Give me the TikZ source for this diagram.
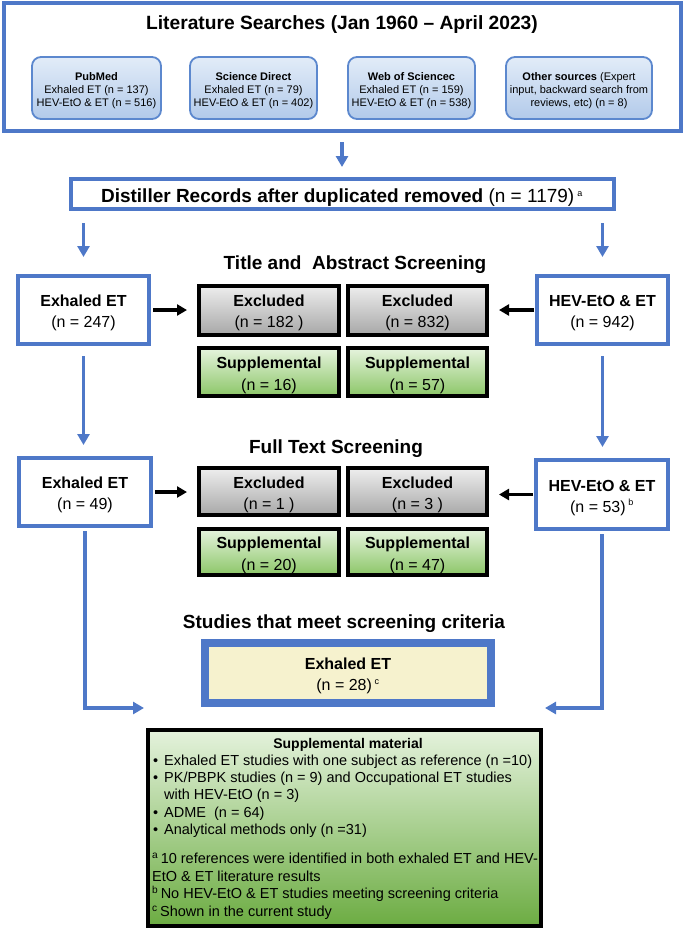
\documentclass[tikz,border=0pt]{standalone}
\usepackage{fontspec}
\setmainfont{Liberation Sans}
\usetikzlibrary{arrows.meta,shadings}
\definecolor{myblue}{RGB}{78,120,200}
\definecolor{subborder}{RGB}{92,136,206}
\definecolor{subtop}{RGB}{226,236,248}
\definecolor{subbot}{RGB}{178,202,234}
\definecolor{graytop}{RGB}{238,238,238}
\definecolor{graybot}{RGB}{168,168,168}
\definecolor{greentop}{RGB}{230,244,222}
\definecolor{greenbot}{RGB}{140,198,104}
\definecolor{smtop}{RGB}{228,242,220}
\definecolor{smbot}{RGB}{108,172,66}
\definecolor{finfill}{RGB}{246,242,206}
\newcommand\fsz[2]{\fontsize{#1}{#2}\selectfont}
\newcommand\lowA{\rule{0pt}{17.5pt}}
\newcommand\lowS{\rule{0pt}{13.5pt}}
\begin{document}
\begin{tikzpicture}[x=1pt,y=-1pt,
 bluebox/.style={draw=myblue, line width=4pt, fill=white, inner sep=0pt, align=center, font=\fsz{16}{21}},
 subbox/.style={draw=subborder, line width=1.8pt, rounded corners=9pt, top color=subtop, bottom color=subbot, align=center, inner sep=0pt, font=\fsz{11}{13}},
 exclbox/.style={draw=black, line width=4pt, top color=graytop, bottom color=graybot, align=center, inner sep=0pt, font=\fsz{16}{21}},
 suppbox/.style={draw=black, line width=4pt, top color=greentop, bottom color=greenbot, align=center, inner sep=0pt, font=\fsz{16}{22}},
 barrow/.style={draw=myblue, line width=3.5pt, -{Triangle[length=11pt,width=12pt]}},
 karrow/.style={draw=black, line width=3.8pt, -{Triangle[length=10pt,width=11pt]}},
 sectitle/.style={font=\fsz{19}{22}\bfseries, inner sep=0pt, anchor=base},
 smline/.style={anchor=base west, inner sep=0pt, font=\fsz{14.5}{17}}
]
\useasboundingbox (0,0) rectangle (685,932);

% Literature searches
\node[bluebox, minimum width=677, minimum height=128] (lit) at (342,67) {};
\node[font=\fsz{19.2}{24}\bfseries, inner sep=0pt, anchor=base] (littitle) at (342,29.3) {Literature Searches (Jan 1960 – April 2023)};
\node[subbox, minimum width=129, minimum height=62] (pub) at (96.5,88) {\lowS\textbf{PubMed}\\Exhaled ET (n = 137)\\HEV-EtO \& ET (n = 516)};
\node[subbox, minimum width=127, minimum height=62] (sd) at (253.5,88) {\lowS\textbf{Science Direct}\\Exhaled ET (n = 79)\\HEV-EtO \& ET (n = 402)};
\node[subbox, minimum width=127, minimum height=62] (wos) at (411.5,88) {\lowS\textbf{Web of Sciencec}\\Exhaled ET (n = 159)\\HEV-EtO \& ET (n = 538)};
\node[subbox, minimum width=146, minimum height=62] (oth) at (579,88) {\lowS\textbf{Other sources} (Expert\\input, backward search from\\reviews, etc) (n = 8)};

% Distiller
\node[bluebox, minimum width=543, minimum height=30, font=\fsz{19}{22}] (dist) at (342,194) {\rule{0pt}{21pt}\textbf{Distiller Records after duplicated removed} (n = 1179)\,\textsuperscript{\fsz{9}{9}a}};
\draw[barrow, shorten <=9pt, shorten >=10pt] (lit.south) -- (dist.north);

% Title and abstract screening
\node[sectitle] (ta) at (355,269.3) {Title and\ \ Abstract Screening};
\node[bluebox, minimum width=131, minimum height=68] (ex1) at (83.5,310) {\lowA\textbf{Exhaled ET}\\(n = 247)};
\node[bluebox, minimum width=131, minimum height=68] (hev1) at (602.5,310) {\lowA\textbf{HEV-EtO \& ET}\\(n = 942)};
\node[exclbox, minimum width=140, minimum height=49] (exL1) at (269,310) {\lowA\textbf{Excluded}\\(n = 182 )};
\node[exclbox, minimum width=139, minimum height=49] (exR1) at (417.5,310) {\lowA\textbf{Excluded}\\(n = 832)};
\node[suppbox, minimum width=140, minimum height=48] (spL1) at (269,372) {\lowA\textbf{Supplemental}\\(n = 16)};
\node[suppbox, minimum width=139, minimum height=48] (spR1) at (417.5,372) {\lowA\textbf{Supplemental}\\(n = 57)};
\draw[barrow, shorten <=12pt, shorten >=17pt] (dist.south -| ex1.north) -- (ex1.north);
\draw[barrow, shorten <=12pt, shorten >=17pt] (dist.south -| hev1.north) -- (hev1.north);
\draw[karrow, shorten <=2pt, shorten >=10pt] (ex1.east) -- (exL1.west);
\draw[karrow, shorten <=1pt, shorten >=10pt] (hev1.west) -- (exR1.east);

% Full text screening
\node[sectitle] (ft) at (336,453) {Full Text Screening};
\node[bluebox, minimum width=132, minimum height=68] (ex2) at (85,492) {\lowA\textbf{Exhaled ET}\\(n = 49)};
\node[bluebox, minimum width=132, minimum height=69] (hev2) at (602,494.5) {\lowA\textbf{HEV-EtO \& ET}\\(n = 53)\,\textsuperscript{\fsz{9}{9}b}};
\node[exclbox, minimum width=140, minimum height=47] (exL2) at (269,491.5) {\lowA\textbf{Excluded}\\(n = 1 )};
\node[exclbox, minimum width=139, minimum height=47] (exR2) at (417.5,491.5) {\lowA\textbf{Excluded}\\(n = 3 )};
\node[suppbox, minimum width=140, minimum height=46] (spL2) at (269,552) {\lowA\textbf{Supplemental}\\(n = 20)};
\node[suppbox, minimum width=139, minimum height=46] (spR2) at (417.5,552) {\lowA\textbf{Supplemental}\\(n = 47)};
\draw[barrow, shorten <=10pt, shorten >=11pt] (ex1.south) -- (ex1.south |- ex2.north);
\draw[barrow, shorten <=10pt, shorten >=11pt] (hev1.south) -- (hev1.south |- hev2.north);
\draw[karrow, shorten <=2pt, shorten >=10pt] (ex2.east) -- (ex2.east -| exL2.west);
\draw[karrow, shorten <=1pt, shorten >=10pt] (hev2.west) -- (hev2.west -| exR2.east);

% Studies that meet screening criteria
\node[sectitle] (st) at (344,628.3) {Studies that meet screening criteria};
\node[draw=myblue, line width=8pt, fill=finfill, minimum width=286, minimum height=60, inner sep=0pt, align=center, font=\fsz{16}{21}] (fin) at (348,673) {\lowA\textbf{Exhaled ET}\\(n = 28)\,\textsuperscript{\fsz{9}{9}c}};
\coordinate (inL) at (144,708);
\coordinate (inR) at (545,708);
\draw[barrow, shorten <=3pt] (ex2.south) |- (inL);
\draw[barrow, shorten <=3pt] (hev2.south) |- (inR);

% Supplemental material
\node[draw=black, line width=4pt, top color=smtop, bottom color=smbot, minimum width=393, minimum height=196, inner sep=0pt] (sm) at (344.5,828) {};
\node[font=\fsz{14}{17}\bfseries, anchor=base, inner sep=0pt] (smt) at (348,748) {Supplemental material};
\node[smline] (b1) at (153,765.5) {\makebox[11pt][l]{•}Exhaled ET studies with one subject as reference (n =10)};
\node[smline] (b2) at (153,782.5) {\makebox[11pt][l]{•}PK/PBPK studies (n = 9) and Occupational ET studies};
\node[smline] (b3) at (164,799.5) {with HEV-EtO (n = 3)};
\node[smline] (b4) at (153,817.5) {\makebox[11pt][l]{•}ADME\ \ (n = 64)};
\node[smline] (b5) at (153,834.5) {\makebox[11pt][l]{•}Analytical methods only (n =31)};
\node[smline] (f1) at (152,863.5) {\textsuperscript{a}\,10 references were identified in both exhaled ET and HEV-};
\node[smline] (f2) at (152,881.5) {EtO \& ET literature results};
\node[smline] (f3) at (152,898.5) {\textsuperscript{b}\,No HEV-EtO \& ET studies meeting screening criteria};
\node[smline] (f4) at (152,916.5) {\textsuperscript{c}\,Shown in the current study};
\end{tikzpicture}
\end{document}
